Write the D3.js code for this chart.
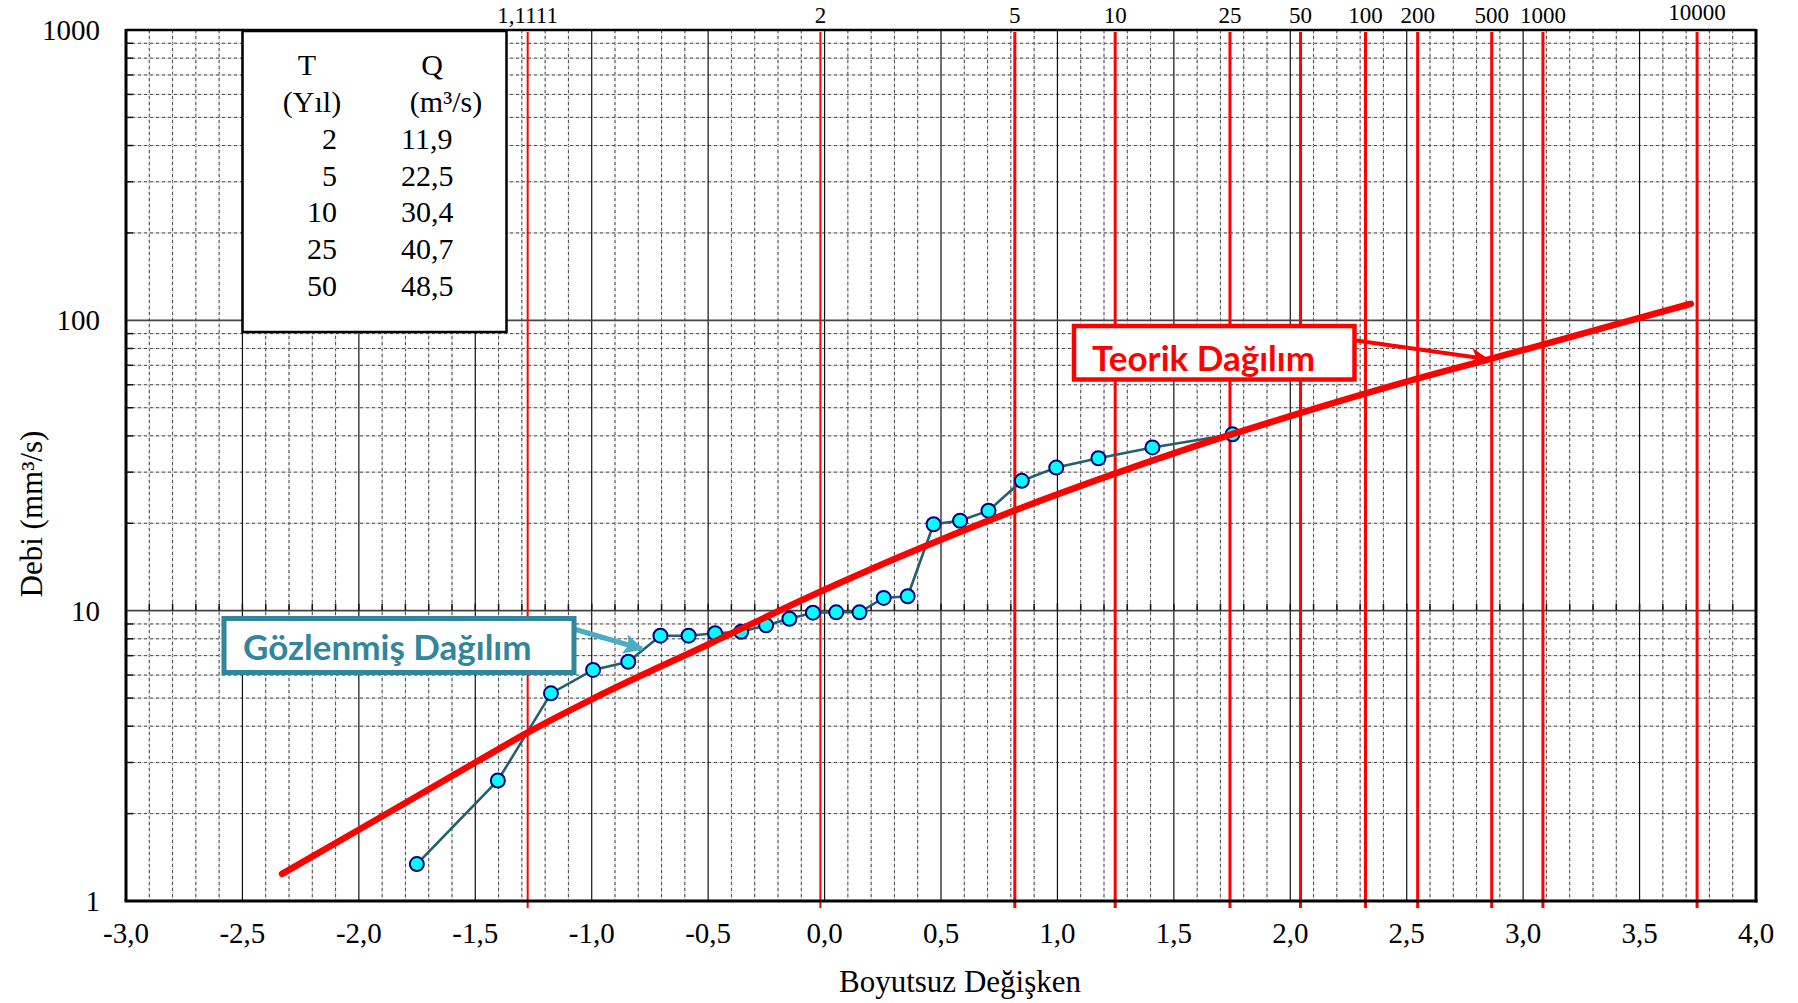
<!DOCTYPE html>
<html><head><meta charset="utf-8">
<script src="https://cdn.jsdelivr.net/npm/d3@7"></script>
<style>
html,body{margin:0;padding:0;background:#fff;}
svg{display:block;}
</style></head>
<body>
<svg id="chart" width="1798" height="1003"></svg>
<script>
// ---------- data ----------
const xTickValues = [-3,-2.5,-2,-1.5,-1,-0.5,0,0.5,1,1.5,2,2.5,3,3.5,4];
const xTickLabels = ["-3,0","-2,5","-2,0","-1,5","-1,0","-0,5","0,0","0,5","1,0","1,5","2,0","2,5","3,0","3,5","4,0"];
const yTickValues = [1,10,100,1000];
const yTickLabels = ["1","10","100","1000"];

const periodLabels = ["1,1111","2","5","10","25","50","100","200","500","1000","10000"];
const periodX = [-1.275,-0.018,0.817,1.248,1.741,2.044,2.323,2.547,2.865,3.085,3.747];

const observedX = [-1.751,-1.403,-1.175,-0.994,-0.843,-0.705,-0.584,-0.470,-0.358,-0.251,-0.151,-0.050,
                   0.050,0.150,0.254,0.357,0.468,0.582,0.704,0.847,0.995,1.176,1.408,1.752];
const observedQ = [1.34,2.60,5.19,6.25,6.67,8.20,8.20,8.36,8.46,8.90,9.38,9.84,
                   9.87,9.87,11.06,11.21,19.84,20.4,22.1,28.0,31.1,33.5,36.5,40.5];

const theoryX = [-2.33,-2.0,-1.5,-1.276,-1.0,-0.5,0,0.32,0.82,1.25,1.74,2.0,2.5,2.86,3.5,3.72];
const theoryQ = [1.24,1.76,3.0,3.8,4.95,7.65,11.8,15.3,22.2,29.7,40.3,46.8,61.5,73.6,102,114];

const tableHeadT = ["T","(Yıl)"];
const tableHeadQ = ["Q","(m³/s)"];
const tableT = ["2","5","10","25","50"];
const tableQ = ["11,9","22,5","30,4","40,7","48,5"];

const xTitle = "Boyutsuz Değişken";
const yTitle = "Debi (mm³/s)";
const theoryLabel = "Teorik Dağılım";
const observedLabel = "Gözlenmiş Dağılım";

// ---------- layout ----------
const L = 126, R = 1756, T = 30, B = 901;
const svg = d3.select("#chart");
const x = d3.scaleLinear().domain([-3,4]).range([L,R]);
const y = d3.scaleLog().domain([1,1000]).range([B,T]);
const serif = "'Liberation Serif','Times New Roman',serif";
const sans = "Lato,'Open Sans',sans-serif";

// ---------- grid ----------
const g = svg.append("g");
const minorX = d3.range(-30,41).filter(i => i % 5 !== 0).map(i => i/10);
const majorX = d3.range(-25,40,5).map(i => i/10);
const minorY = [];
[1,10,100].forEach(d => { for (let k=2;k<=9;k++) minorY.push(k*d); });

g.selectAll(".vmg").data(minorX).join("line")
  .attr("x1",d=>x(d)).attr("x2",d=>x(d)).attr("y1",T).attr("y2",B)
  .attr("stroke","#d0d0d0").attr("stroke-width",1);
g.selectAll(".vmd").data(minorX).join("line")
  .attr("x1",d=>x(d)).attr("x2",d=>x(d)).attr("y1",T).attr("y2",B)
  .attr("stroke","#4a4a4a").attr("stroke-width",1).attr("stroke-dasharray","3,3");
g.selectAll(".hmg").data(minorY).join("line")
  .attr("x1",L).attr("x2",R).attr("y1",d=>y(d)).attr("y2",d=>y(d))
  .attr("stroke","#d0d0d0").attr("stroke-width",1);
g.selectAll(".hmd").data(minorY).join("line")
  .attr("x1",L).attr("x2",R).attr("y1",d=>y(d)).attr("y2",d=>y(d))
  .attr("stroke","#4a4a4a").attr("stroke-width",1).attr("stroke-dasharray","3,3");
g.selectAll(".vM").data(majorX).join("line")
  .attr("x1",d=>x(d)).attr("x2",d=>x(d)).attr("y1",T).attr("y2",B)
  .attr("stroke","#111").attr("stroke-width",1.2);
g.selectAll(".hM").data([10,100]).join("line")
  .attr("x1",L).attr("x2",R).attr("y1",d=>y(d)).attr("y2",d=>y(d))
  .attr("stroke","#444").attr("stroke-width",1.6);
// small ticks along the 10 line
g.selectAll(".t10").data(d3.range(-29,40).map(i=>i/10)).join("line")
  .attr("x1",d=>x(d)).attr("x2",d=>x(d)).attr("y1",y(10)).attr("y2",y(10)-7)
  .attr("stroke","#111").attr("stroke-width",1.5);
// inward y ticks
g.selectAll(".yt").data(minorY).join("line")
  .attr("x1",L).attr("x2",L+7).attr("y1",d=>y(d)).attr("y2",d=>y(d))
  .attr("stroke","#111").attr("stroke-width",1.5);

// ---------- return period lines ----------
svg.append("g").selectAll("line").data(periodX).join("line")
  .attr("x1",d=>x(d)).attr("x2",d=>x(d))
  .attr("y1",T+2).attr("y2",B+7)
  .attr("stroke","#ff0000").attr("stroke-width",(d,i)=> i<2 ? 2 : 3);
svg.append("g").selectAll("text").data(periodLabels).join("text")
  .attr("x",(d,i)=>x(periodX[i])).attr("y",(d,i)=> d==="10000" ? 20 : 23)
  .attr("text-anchor","middle").attr("font-family",serif).attr("font-size",23)
  .attr("fill","#000").text(d=>d);

// ---------- table box ----------
const tb = svg.append("g");
tb.append("rect").attr("x",242.5).attr("y",31).attr("width",264).attr("height",301)
  .attr("fill","#fff").attr("stroke","#000").attr("stroke-width",2.5);
tb.selectAll(".th").data(tableHeadT).join("text")
  .attr("x",(d,i)=> i===0?307:312).attr("y",(d,i)=>75+i*37)
  .attr("text-anchor","middle").attr("font-family",serif).attr("font-size",30).text(d=>d);
tb.selectAll(".qh").data(tableHeadQ).join("text")
  .attr("x",(d,i)=> i===0?432:446).attr("y",(d,i)=>75+i*37)
  .attr("text-anchor","middle").attr("font-family",serif).attr("font-size",30).text(d=>d);
tb.selectAll(".tv").data(tableT).join("text")
  .attr("x",337).attr("y",(d,i)=>149+i*36.7)
  .attr("text-anchor","end").attr("font-family",serif).attr("font-size",30).text(d=>d);
tb.selectAll(".qv").data(tableQ).join("text")
  .attr("x",401).attr("y",(d,i)=>149+i*36.7)
  .attr("text-anchor","start").attr("font-family",serif).attr("font-size",30).text(d=>d);

// ---------- observed series ----------
const obs = observedX.map((v,i)=>[v,observedQ[i]]);
svg.append("path").datum(obs)
  .attr("d", d3.line().x(d=>x(d[0])).y(d=>y(d[1])))
  .attr("fill","none").attr("stroke","#245f6e").attr("stroke-width",2.6);
svg.append("g").selectAll("circle").data(obs).join("circle")
  .attr("cx",d=>x(d[0])).attr("cy",d=>y(d[1])).attr("r",7)
  .attr("fill","#00ffff").attr("stroke","#000080").attr("stroke-width",2);

// ---------- theoretical curve ----------
const th = theoryX.map((v,i)=>[v,theoryQ[i]]);
svg.append("path").datum(th)
  .attr("d", d3.line().x(d=>x(d[0])).y(d=>y(d[1])).curve(d3.curveMonotoneX))
  .attr("fill","none").attr("stroke","#ff0000").attr("stroke-width",6.5)
  .attr("stroke-linecap","round");

// ---------- annotations ----------
const defs = svg.append("defs");
defs.append("marker").attr("id","arrR").attr("viewBox","0 0 10 10").attr("refX",9).attr("refY",5)
  .attr("markerUnits","userSpaceOnUse").attr("markerWidth",20).attr("markerHeight",18).attr("orient","auto")
  .append("path").attr("d","M0,0 L10,5 L0,10 L3,5 Z").attr("fill","#ff0000");
defs.append("marker").attr("id","arrB").attr("viewBox","0 0 10 10").attr("refX",9).attr("refY",5)
  .attr("markerUnits","userSpaceOnUse").attr("markerWidth",22).attr("markerHeight",20).attr("orient","auto")
  .append("path").attr("d","M0,0 L10,5 L0,10 L2,5 Z").attr("fill","#4bacc6");

svg.append("line").attr("x1",1356).attr("y1",340.5).attr("x2",1487).attr("y2",359)
  .attr("stroke","#ff0000").attr("stroke-width",4).attr("marker-end","url(#arrR)");
svg.append("rect").attr("x",1074).attr("y",326).attr("width",280.5).attr("height",53.5)
  .attr("fill","#fff").attr("stroke","#ff0000").attr("stroke-width",4.5);
svg.append("text").attr("x",1092).attr("y",371).attr("font-family",sans).attr("font-weight",700)
  .attr("font-size",35).attr("fill","#ff0000").text(theoryLabel);

svg.append("line").attr("x1",574).attr("y1",629).attr("x2",642).attr("y2",649)
  .attr("stroke","#4bacc6").attr("stroke-width",5).attr("marker-end","url(#arrB)");
svg.append("rect").attr("x",224).attr("y",618.5).attr("width",350).attr("height",54)
  .attr("fill","#fff").attr("stroke","#31859c").attr("stroke-width",5);
svg.append("text").attr("x",243).attr("y",660).attr("font-family",sans).attr("font-weight",700)
  .attr("font-size",35).attr("fill","#31859c").text(observedLabel);

// ---------- frame ----------
const fr = svg.append("g").attr("stroke","#000");
fr.append("line").attr("x1",L).attr("x2",R).attr("y1",T).attr("y2",T).attr("stroke-width",2.5);
fr.append("line").attr("x1",L-1.5).attr("x2",R+1.5).attr("y1",B).attr("y2",B).attr("stroke-width",3);
fr.append("line").attr("x1",L).attr("x2",L).attr("y1",T-1).attr("y2",B).attr("stroke-width",3);
fr.append("line").attr("x1",R).attr("x2",R).attr("y1",T-1).attr("y2",B+1.5).attr("stroke-width",3);

// ---------- axis labels ----------
svg.append("g").selectAll("text").data(xTickValues).join("text")
  .attr("x",d=>x(d)).attr("y",943).attr("text-anchor","middle")
  .attr("font-family",serif).attr("font-size",29).text((d,i)=>xTickLabels[i]);
svg.append("g").selectAll("text").data(yTickValues).join("text")
  .attr("x",100).attr("y",d=>y(d)+10).attr("text-anchor","end")
  .attr("font-family",serif).attr("font-size",29).text((d,i)=>yTickLabels[i]);

svg.append("text").attr("x",960).attr("y",992).attr("text-anchor","middle")
  .attr("font-family",serif).attr("font-size",31).text(xTitle);
svg.append("text").attr("transform","translate(42,514) rotate(-90)").attr("text-anchor","middle")
  .attr("font-family",serif).attr("font-size",31).text(yTitle);
</script>
</body></html>
